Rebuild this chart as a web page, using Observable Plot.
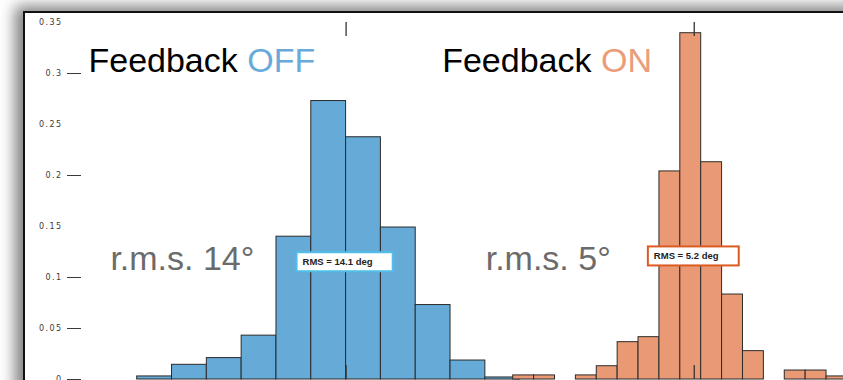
<!DOCTYPE html>
<html>
<head>
<meta charset="utf-8">
<script src="https://cdn.jsdelivr.net/npm/d3@7"></script>
<script src="https://cdn.jsdelivr.net/npm/@observablehq/plot@0.6"></script>
<style>
  html, body { margin: 0; padding: 0; background: #fff; overflow: hidden; width: 843px; height: 380px; }
  #sheet {
    position: absolute; left: 23px; top: 11px; width: 1000px; height: 600px;
    background: #fff; border: 2px solid #111;
    box-shadow: -5px -2px 14px 3px rgba(0, 0, 0, 0.5);
  }
  #chart { position: absolute; left: 0; top: 0; }
</style>
</head>
<body>
<div id="sheet"></div>
<div id="chart"></div>
<script>
// Normalised histograms of the pointing error, feedback off (left) and on (right).
const offBinStart = [-60, -50, -40, -30, -20, -10, 0, 10, 20, 30, 40];
const offFraction = [0.003, 0.0144, 0.021, 0.043, 0.140, 0.273, 0.2375, 0.149, 0.073, 0.0186, 0.002];
const offBinWidth = 10;

const onBinStart = [48, 54, 60, 66, 72, 78, 84, 90, 96, 102, 108, 114, 120, 126, 132, 138];
const onFraction = [0.004, 0.004, 0, 0.004, 0.013, 0.0366, 0.0415, 0.204, 0.3395, 0.213, 0.0833, 0.0278, 0, 0.0088, 0.0088, 0.003];
const onBinWidth = 6;

// y tick values: some carry a tick mark, the others only a label
const yTicksMarked = [0, 0.05, 0.1, 0.2, 0.3];
const yTicksPlain = [0.15, 0.25, 0.35];
// centre of each histogram
const centreTicks = [0, 100];

// annotations
const panelTitles = [
  {lead: "Feedback", tag: "OFF", at: -74, level: 0.301},
  {lead: "Feedback", tag: "ON", at: 27.6, level: 0.301}
];
const rmsNotes = [
  {text: "r.m.s. 14°", at: -67.7, level: 0.1074},
  {text: "r.m.s. 5°", at: 40.1, level: 0.1074}
];
const rmsBoxes = [
  {text: "RMS = 14.1 deg", at: -12.5, level: 0.115},
  {text: "RMS = 5.2 deg", at: 88.4, level: 0.1207}
];

const offColor = "#66aad8";
const onColor = "#e99a74";
const tagColors = ["#69aadb", "#eb9c7a"];
const boxStroke = ["#4fbfe9", "#dc5b22"];

const offBins = offBinStart.map((x0, i) => ({x1: x0, x2: x0 + offBinWidth, y: offFraction[i]}));
const onBins = onBinStart.map((x0, i) => ({x1: x0, x2: x0 + onBinWidth, y: onFraction[i]}));

const plot = Plot.plot({
  width: 843,
  height: 380,
  marginTop: 22,
  marginBottom: 1,
  marginLeft: 81,
  marginRight: 10,
  x: {domain: [-76, 140], axis: null},
  y: {domain: [0, 0.35]},
  style: {background: "transparent", fontFamily: "'Liberation Sans', Arial, sans-serif", overflow: "visible"},
  marks: [
    Plot.rectY(offBins, {x1: "x1", x2: "x2", y: "y", fill: offColor, stroke: "#2b2b2b", strokeWidth: 1}),
    Plot.rectY(onBins, {x1: "x1", x2: "x2", y: "y", fill: onColor, stroke: "#2b2b2b", strokeWidth: 1}),
    Plot.ruleX(centreTicks, {insetBottom: 343, stroke: "#333", strokeWidth: 1.3}),
    Plot.ruleX(centreTicks, {insetTop: 343, stroke: "#333", strokeWidth: 1.3}),
    Plot.axisY({ticks: yTicksMarked, tickSize: 14, tickPadding: 5, tickFormat: d => String(d), fontSize: 8, color: "#3a3a3a", label: null}),
    Plot.axisY({ticks: yTicksPlain, tickSize: 0, tickPadding: 19, tickFormat: d => String(d), fontSize: 8, color: "#3a3a3a", label: null}),
    Plot.text(rmsBoxes, {x: "at", y: "level", text: "text", textAnchor: "start", fontSize: 9.5, fontWeight: "bold", fill: "#222"}),
    Plot.text(rmsNotes, {x: "at", y: "level", text: "text", textAnchor: "start", lineAnchor: "bottom", fontSize: 34, fill: "#6b6b6b"}),
    Plot.text(panelTitles, {x: "at", y: "level", text: "lead", textAnchor: "start", lineAnchor: "bottom", fontSize: 34, fill: "#000"})
  ]
});

document.getElementById("chart").appendChild(plot);

const svg = d3.select(plot);

// small, widely spaced tick labels
svg.selectAll('g[aria-label="y-axis tick label"]')
  .attr("font-family", "'DejaVu Sans', sans-serif")
  .attr("letter-spacing", "1.4");

// the three text marks, in the order they were declared
const textGroups = svg.selectAll('g[aria-label="text"]').nodes();
const [boxGroup, , titleGroup] = textGroups;

// white boxes behind the RMS labels
d3.select(boxGroup).selectAll("text").each(function(_, k) {
  const t = d3.select(this);
  const bb = this.getBBox();
  d3.select(this.parentNode).insert("rect", () => this)
    .attr("transform", t.attr("transform"))
    .attr("x", bb.x - 6)
    .attr("y", bb.y + bb.height / 2 - 9.5)
    .attr("width", bb.width + 26)
    .attr("height", 19)
    .attr("fill", "#fff")
    .attr("stroke", boxStroke[k])
    .attr("stroke-width", 2);
});

// coloured OFF / ON tags after "Feedback"
d3.select(titleGroup).selectAll("text").each(function(_, k) {
  d3.select(this).append("tspan").attr("fill", tagColors[k]).text(" " + panelTitles[k].tag);
});
</script>
</body>
</html>
